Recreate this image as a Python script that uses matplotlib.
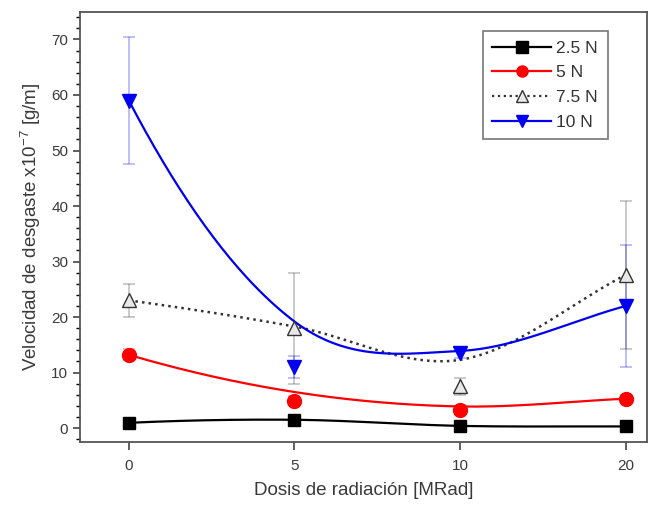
import numpy as np
import matplotlib
matplotlib.use("Agg")
import matplotlib.pyplot as plt
from matplotlib.ticker import MultipleLocator

plt.rcParams['font.family'] = ['Liberation Sans', 'DejaVu Sans']

dosis = ["0", "5", "10", "20"]

# valores medidos
v_25 = [0.95, 1.5, 0.4, 0.3]
v_5 = [13.2, 4.9, 3.3, 5.3]
v_75 = [23.0, 18.0, 7.5, 27.6]
v_10 = [59.0, 11.0, 13.6, 22.0]

# barras de error
e_25 = [0.3, 0.3, 0.2, 0.2]
e_5 = [1.0, 0.8, 0.6, 0.6]
e_75 = [3.0, 10.0, 1.5, 13.3]
e_10 = [11.5, 2.0, 1.0, 11.0]

# curvas suavizadas
c_25 = [0.95, 1.5, 0.4, 0.3]
c_5 = [13.2, 6.5, 3.9, 5.3]
c_75 = [23.0, 18.3, 12.3, 27.6]
c_10 = [59.0, 19.2, 13.9, 22.0]


def suave(p, n=60):
    # spline tipo Catmull-Rom entre los puntos guia
    p = np.asarray(p, float)
    m = np.gradient(p)
    m[0] = 2 * (p[1] - p[0]) - m[1]
    xx, yy = [], []
    for i in range(len(p) - 1):
        t = np.linspace(0, 1, n)
        h00 = 2 * t**3 - 3 * t**2 + 1
        h10 = t**3 - 2 * t**2 + t
        h01 = -2 * t**3 + 3 * t**2
        h11 = t**3 - t**2
        xx.append(i + t)
        yy.append(h00 * p[i] + h10 * m[i] + h01 * p[i + 1] + h11 * m[i + 1])
    return np.concatenate(xx), np.concatenate(yy)


x = np.arange(len(dosis))

fig = plt.figure(figsize=(6.52, 5.05), dpi=100)
ax = fig.add_axes([0.1227, 0.1248, 0.8700, 0.852])

series = [
    ("2.5 N", v_25, e_25, c_25, "black", "s", "-", "black", 8.5),
    ("5 N", v_5, e_5, c_5, "red", "o", "-", "red", 10),
    ("7.5 N", v_75, e_75, c_75, "#333333", "^", ":", "#e8e8e8", 10),
    ("10 N", v_10, e_10, c_10, "#0000ee", "v", "-", "#0000ee", 10.5),
]

for label, v, e, c, col, mk, ls, fc, ms in series:
    ax.errorbar(x, v, yerr=e, fmt="none", ecolor=col, alpha=0.3,
                elinewidth=1.2, capsize=4, capthick=1.2, zorder=2)
    sx, sy = suave(c)
    ax.plot(sx, sy, color=col, ls=ls,
            lw=1.6 if ls == "-" else 1.8, zorder=3)
    ax.plot(x, v, ls="none", marker=mk, color=col, markerfacecolor=fc,
            markeredgecolor=col, markersize=ms, zorder=4)
    # entrada de leyenda
    ax.plot([], [], color=col, ls=ls, lw=1.6, marker=mk,
            markerfacecolor=fc, markeredgecolor=col, markersize=8,
            label=label)

ax.set_xlim(-0.295, 3.13)
ax.set_ylim(-2.5, 75)
ax.set_xticks(x)
ax.set_xticklabels(dosis)
ax.yaxis.set_major_locator(MultipleLocator(10))
ax.yaxis.set_minor_locator(MultipleLocator(2))

for s in ax.spines.values():
    s.set_color("#555555")
    s.set_linewidth(1.3)

ax.tick_params(axis="both", direction="out", labelsize=11, colors="#444444",
               labelcolor="#3a3a3a", width=1.2)
ax.tick_params(axis="y", which="major", length=5)
ax.tick_params(axis="y", which="minor", length=3, width=1.0)
ax.tick_params(axis="x", length=6, pad=6)

ax.set_xlabel("Dosis de radiación [MRad]", fontsize=13.5, color="#3a3a3a", labelpad=7)
ax.set_ylabel("Velocidad de desgaste x10$^{\\mathregular{-7}}$ [g/m]", fontsize=13.5,
              color="#3a3a3a", labelpad=6)

leg = ax.legend(loc="upper right", bbox_to_anchor=(0.93, 0.955),
                borderaxespad=0, fontsize=12.5, handlelength=3.4,
                labelspacing=0.55, fancybox=False, framealpha=1,
                edgecolor="#777777", handletextpad=0.3, borderpad=0.55)
leg.get_frame().set_linewidth(1.2)
for t in leg.get_texts():
    t.set_color("#333333")

fig.savefig("out.png", dpi=100)
